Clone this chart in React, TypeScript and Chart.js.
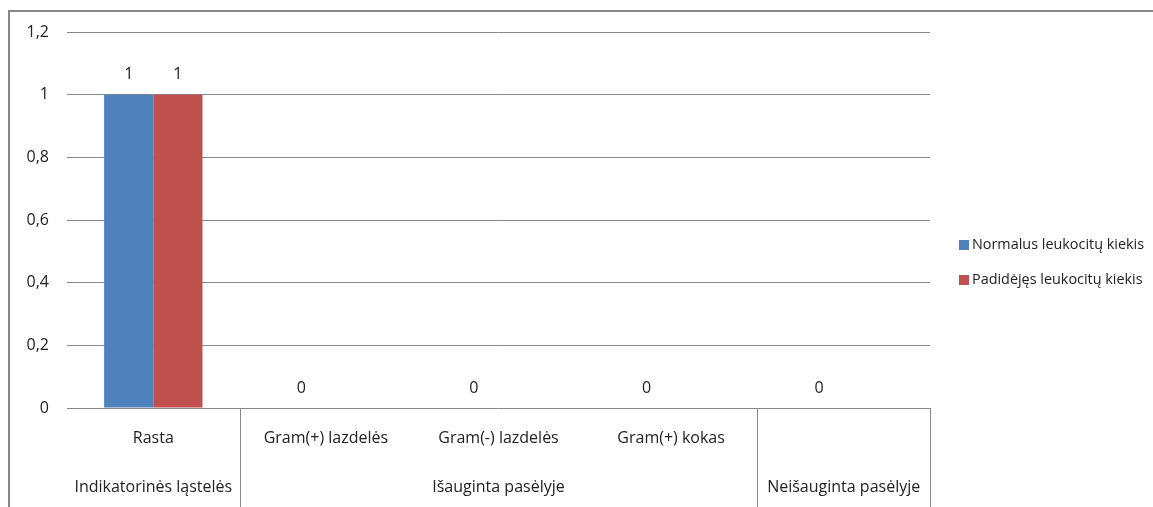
import React, { useEffect, useRef } from "react";
import { Chart, registerables } from "chart.js";

Chart.register(...registerables);

// Categories on the x axis and the groups they belong to
const categories = ["Rasta", "Gram(+) lazdelės", "Gram(-) lazdelės", "Gram(+) kokas", ""];
const groupLabels = ["Indikatorinės ląstelės", "Išauginta pasėlyje", "Neišauginta pasėlyje"];
const groupSizes = [1, 3, 1];

// Series
const seriesNames = ["Normalus leukocitų kiekis", "Padidėjęs leukocitų kiekis"];
const normalValues: (number | null)[] = [1, 0, 0, 0, 0];
const increasedValues: (number | null)[] = [1, null, null, null, null];
const seriesColors = ["#4F81BD", "#C0504D"];

// Value axis
const yMin = 0;
const yMax = 1.2;
const yStep = 0.2;

const FONT_FAMILY = "'Open Sans'";
const FONT_SIZE = 16;
const LEGEND_FONT_SIZE = 14.4;
const TEXT_COLOR = "#222222";
const LINE_COLOR = "#878787";

const fmt = (v: number) => String(Number(v.toFixed(1))).replace(".", ",");

const decorations = {
  id: "decorations",
  afterDraw(chart: any) {
    const { ctx, chartArea, scales } = chart;
    const xs = scales.x;
    const W = chart.width;
    const H = chart.height;
    ctx.save();

    // outer frame (left and top edges)
    ctx.strokeStyle = LINE_COLOR;
    ctx.lineWidth = 2;
    ctx.beginPath();
    ctx.moveTo(9, H);
    ctx.lineTo(9, 11);
    ctx.lineTo(W, 11);
    ctx.stroke();

    ctx.font = `${FONT_SIZE}px ${FONT_FAMILY}`;
    ctx.fillStyle = TEXT_COLOR;
    ctx.textAlign = "center";
    ctx.textBaseline = "middle";

    // group separators and group labels
    const step = xs.getPixelForValue(1) - xs.getPixelForValue(0);
    let idx = 0;
    ctx.lineWidth = 1;
    groupSizes.forEach((n, g) => {
      const start = xs.getPixelForValue(idx) - step / 2;
      const end = xs.getPixelForValue(idx + n - 1) + step / 2;
      const px = Math.round(end) + 0.5;
      ctx.beginPath();
      ctx.moveTo(px, chartArea.bottom);
      ctx.lineTo(px, H);
      ctx.stroke();
      ctx.fillText(groupLabels[g], (start + end) / 2, 487);
      idx += n;
    });

    // value labels above bars
    chart.data.datasets.forEach((ds: any, di: number) => {
      const meta = chart.getDatasetMeta(di);
      meta.data.forEach((bar: any, i: number) => {
        const v = ds.data[i];
        if (v === null || v === undefined) return;
        ctx.fillText(fmt(v), bar.x, bar.y - 20);
      });
    });

    // legend
    ctx.font = `${LEGEND_FONT_SIZE}px ${FONT_FAMILY}`;
    ctx.textAlign = "left";
    chart.data.datasets.forEach((ds: any, di: number) => {
      const y = 245 + di * 35;
      ctx.fillStyle = ds.backgroundColor;
      ctx.fillRect(959, y - 5, 10, 10);
      ctx.fillStyle = TEXT_COLOR;
      ctx.fillText(ds.label, 972, y);
    });

    ctx.restore();
  },
};

export default function App() {
  const canvasRef = useRef<HTMLCanvasElement | null>(null);

  useEffect(() => {
    const canvas = canvasRef.current;
    if (!canvas) return;
    const chart = new Chart(canvas, {
      type: "bar",
      data: {
        labels: categories,
        datasets: [
          { label: seriesNames[0], data: normalValues, backgroundColor: seriesColors[0] },
          { label: seriesNames[1], data: increasedValues, backgroundColor: seriesColors[1] },
        ],
      },
      options: {
        responsive: false,
        animation: false,
        devicePixelRatio: 1,
        layout: { padding: { left: 0, top: 32, right: 223, bottom: 0 } },
        datasets: { bar: { categoryPercentage: 0.57, barPercentage: 1 } },
        plugins: { legend: { display: false }, tooltip: { enabled: false } },
        scales: {
          x: {
            ticks: {
              padding: 21,
              autoSkip: false,
              maxRotation: 0,
              color: TEXT_COLOR,
              font: { family: FONT_FAMILY, size: FONT_SIZE },
            },
            grid: { display: false, drawTicks: false },
            border: { display: false },
            afterFit(s: any) {
              s.height = 99;
            },
          },
          y: {
            min: yMin,
            max: yMax,
            ticks: {
              stepSize: yStep,
              padding: 18,
              color: TEXT_COLOR,
              font: { family: FONT_FAMILY, size: FONT_SIZE },
              callback: (v: any) => fmt(Number(v)),
            },
            grid: { color: LINE_COLOR, drawTicks: false },
            border: { display: false },
            afterFit(s: any) {
              s.width = 67;
            },
          },
        },
      },
      plugins: [decorations],
    });
    return () => chart.destroy();
  }, []);

  return (
    <div style={{ position: "absolute", left: 0, top: 0, width: 1153, height: 507, background: "#fff" }}>
      <canvas ref={canvasRef} width={1153} height={507} style={{ display: "block" }} />
    </div>
  );
}
